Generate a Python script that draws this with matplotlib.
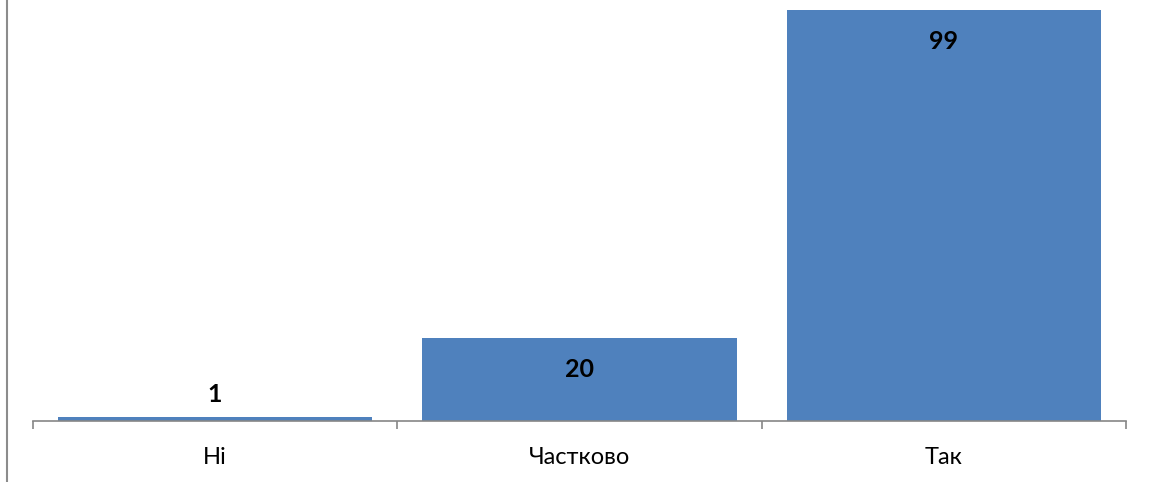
import matplotlib
matplotlib.use("Agg")
import matplotlib.pyplot as plt
from matplotlib.lines import Line2D

categories = ["Ні", "Частково", "Так"]
values = [1, 20, 99]

W, H = 1151, 482
fig = plt.figure(figsize=(W/100, H/100), dpi=100)
ax = fig.add_axes([33/W, 1 - 421/H, (1126-33)/W, 421/H])

x = list(range(len(categories)))
bars = ax.bar(x, values, width=0.862, color="#4F81BD", zorder=2)
ax.set_xlim(-0.5, 2.5)
ax.set_ylim(0, 101.3)

for s in ["top", "right", "left"]:
    ax.spines[s].set_visible(False)
ax.spines["bottom"].set_color("#868686")
ax.spines["bottom"].set_linewidth(1.2)
ax.set_yticks([])
ax.set_xticks([-0.5, 0.5, 1.5, 2.5], minor=False)
ax.set_xticklabels([])
ax.tick_params(axis="x", which="major", length=6, color="#868686", width=1.2)
ax.set_xticks(x, minor=True)
ax.set_xticklabels(categories, minor=True, fontsize=17, family="Lato")
ax.tick_params(axis="x", which="minor", length=0, pad=18.5)

for xi, v in zip(x, values):
    if v < 10:
        ax.annotate(str(v), (xi, v), xytext=(0, 8), textcoords="offset points",
                    ha="center", va="bottom", fontsize=18, fontweight="bold", family="Lato")
    else:
        ax.annotate(str(v), (xi, v), xytext=(0, -23), textcoords="offset points",
                    ha="center", va="center", fontsize=18, fontweight="bold", family="Lato")

fig.add_artist(Line2D([6.5/W, 6.5/W], [0, 1], color="#8C8C8C", linewidth=1.5))

fig.savefig("out.png", dpi=100)
